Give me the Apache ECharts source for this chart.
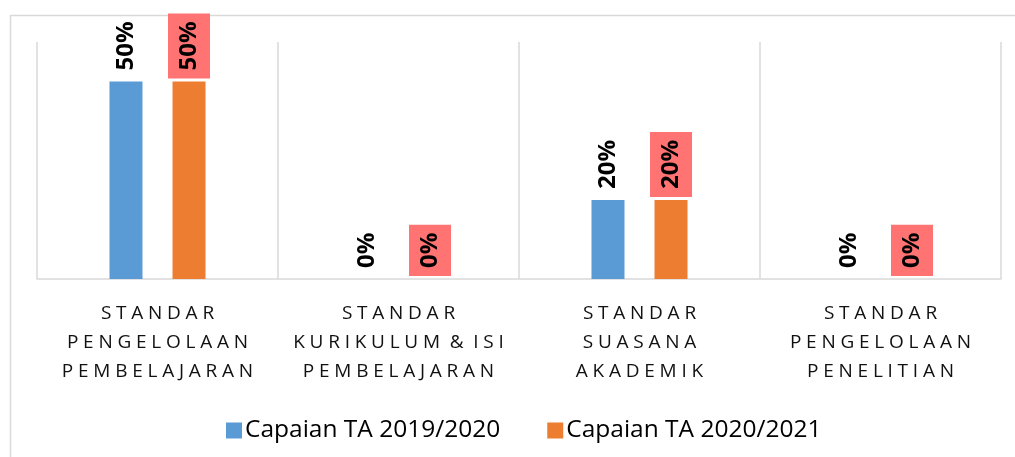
<!DOCTYPE html>
<html>
<head>
<meta charset="utf-8">
<script src="https://cdn.jsdelivr.net/npm/echarts@6/dist/echarts.min.js"></script>
<style>
  html, body { margin: 0; padding: 0; background: #fff; }
  #chart { width: 1015px; height: 457px; }
</style>
</head>
<body>
<div id="chart"></div>
<script>
var categories = [
    'STANDAR\nPENGELOLAAN\nPEMBELAJARAN',
    'STANDAR\nKURIKULUM & ISI\nPEMBELAJARAN',
    'STANDAR\nSUASANA\nAKADEMIK',
    'STANDAR\nPENGELOLAAN\nPENELITIAN'
];
var seriesNames = ['Capaian TA 2019/2020', 'Capaian TA 2020/2021'];
var values2019 = [0.5, 0, 0.2, 0];
var values2020 = [0.5, 0, 0.2, 0];

var colors = ['#5B9BD5', '#ED7D31'];
var gridColor = '#d9d9d9';

// fake letter spacing: put a gap between every letter
function spaced(text) {
    var gap = '\u2005';
    return text.split('\n').map(function (line) {
        return line.split(' ').map(function (w) {
            return w.split('').join(gap);
        }).join(' ' + gap);
    }).join('\n');
}

function pct(p) {
    return Math.round(p.value * 100) + '%';
}

function labelStyle(boxed) {
    var s = {
        show: true,
        position: 'top',
        distance: 3,
        rotate: 90,
        align: 'left',
        verticalAlign: 'middle',
        fontFamily: 'Open Sans',
        fontWeight: 'bold',
        fontSize: 24,
        color: '#000',
        padding: [9, 8, 9, 8],
        formatter: pct
    };
    if (boxed) s.backgroundColor = '#FF7373';
    return s;
}

var chart = echarts.init(document.getElementById('chart'), null, { renderer: 'canvas' });

var option = {
    animation: false,
    textStyle: { fontFamily: 'Open Sans' },
    graphic: [{
        type: 'rect',
        left: 8,
        top: 13,
        shape: { width: 1100, height: 600 },
        style: { fill: 'none', stroke: gridColor, lineWidth: 1.5 },
        silent: true
    }],
    grid: { left: 37, right: 14, top: 42, bottom: 178 },
    legend: {
        left: 221,
        top: 413,
        icon: 'rect',
        itemWidth: 16,
        itemHeight: 16,
        itemGap: 47,
        textStyle: { fontFamily: 'Open Sans', fontSize: 24.5, color: '#000', padding: [0, 0, 0, -2] },
        data: seriesNames
    },
    xAxis: {
        type: 'category',
        data: categories,
        axisLine: { lineStyle: { color: gridColor, width: 1.5 } },
        axisTick: { show: false },
        splitLine: { show: true, lineStyle: { color: gridColor, width: 1.5 } },
        axisLabel: {
            interval: 0,
            margin: 20,
            fontFamily: 'Open Sans',
            fontSize: 19,
            lineHeight: 29,
            color: '#111',
            formatter: spaced
        }
    },
    yAxis: {
        type: 'value',
        min: 0,
        max: 0.6,
        show: false,
        splitLine: { show: false }
    },
    series: [
        {
            name: seriesNames[0],
            type: 'bar',
            data: values2019,
            barWidth: 33,
            barGap: '91%',
            itemStyle: { color: colors[0] },
            label: labelStyle(false)
        },
        {
            name: seriesNames[1],
            type: 'bar',
            data: values2020,
            barWidth: 33,
            itemStyle: { color: colors[1] },
            label: labelStyle(true)
        }
    ]
};

chart.setOption(option);
window.addEventListener('resize', chart.resize);
</script>
</body>
</html>
